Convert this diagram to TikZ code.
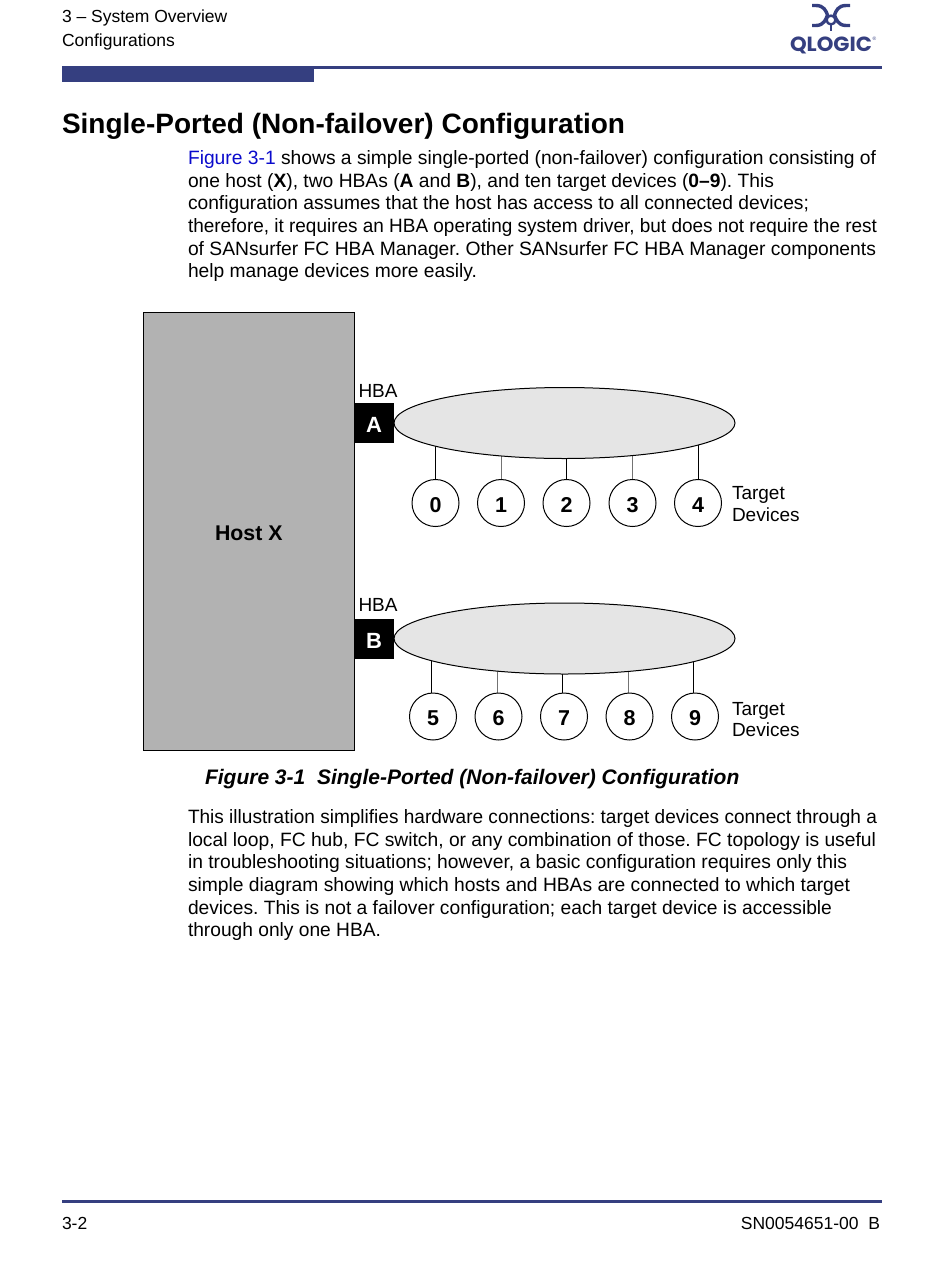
\documentclass[tikz,border=0pt]{standalone}
\usepackage{fontspec}
\usepackage{graphicx}
\setmainfont{Liberation Sans}
\newfontfamily\logofont{Poppins}
\usetikzlibrary{backgrounds,shapes.geometric}
\definecolor{ql}{HTML}{353F80}
\definecolor{lnk}{HTML}{0A0ACC}
\newcommand\fitw[2]{\resizebox{#1pt}{\height}{\frenchspacing #2}}
\newcommand\dn[1]{\raisebox{-2pt}[\height][\depth]{#1}}
\tikzset{
 every node/.style={inner sep=0pt,outer sep=0pt},
 bodyline/.style={anchor=base west,font=\fontsize{19.3}{22}\selectfont},
 hdr/.style={anchor=base west,font=\fontsize{17.5}{20}\selectfont},
 lbl/.style={anchor=base west,font=\fontsize{19}{22}\selectfont},
 hba/.style={fill=black,minimum width=40,minimum height=40,text=white,font=\fontsize{22}{24}\selectfont\bfseries},
 loopell/.style={draw=black,line width=1,fill=black!10,ellipse,minimum width=341,minimum height=71},
 dev/.style={circle,draw=black,line width=1,fill=white,minimum size=47,font=\fontsize{21.5}{24}\selectfont\bfseries},
 darkwire/.style={draw=black,line width=1},
 greywire/.style={draw=black!55,line width=1},
 logostroke/.style={draw=ql,line width=3.4,line cap=butt},
}
\begin{document}
\begin{tikzpicture}[x=1pt,y=-1pt]
\useasboundingbox (0,0) rectangle (950,1267);
% header
\node[hdr] (h1) at (62,22) {3 – System Overview};
\node[hdr] (h2) at (62,46) {Configurations};
\fill[ql] (62,65.5) rectangle (882,68.5);
\fill[ql] (62,67) rectangle (314,82);
% logo
\draw[logostroke] (812,5.5) -- (816,5.5) .. controls (824,5.5) and (826,11) .. (827.5,15) .. controls (826,19) and (824,25.5) .. (816,25.5) -- (812,25.5);
\draw[logostroke] (850,5.5) -- (846,5.5) .. controls (838,5.5) and (836,11) .. (834.5,15) .. controls (836,19) and (838,25.5) .. (846,25.5) -- (850,25.5);
\draw[logostroke,line width=2.4] (831,20) circle (4.4);
\draw[logostroke,line width=2.6] (831,23) -- (831,30.5);
\node[anchor=base west,text=ql,font=\logofont\bfseries\fontsize{20.5}{21}\selectfont] (logo) at (790,51) {\resizebox{82pt}{\height}{QLOGIC}};
\node[anchor=base west,text=ql,font=\fontsize{5}{5}\selectfont] (reg) at (872.5,40.5) {®};
% title
\node[anchor=base west,font=\fontsize{28}{32}\selectfont\bfseries] (title) at (62,133) {Single-Ported (Non-failover) Configuration};
% top paragraph
\node[bodyline] (p1) at (188,164) {\fitw{688}{\textcolor{lnk}{Figure 3-1} shows a simple single-ported (non-failover) configuration consisting of}};
\node[bodyline] (p2) at (188,187) {\fitw{586}{one host (\textbf{X}), two HBAs (\textbf{A} and \textbf{B}), and ten target devices (\textbf{0–9}). This}};
\node[bodyline] (p3) at (188,209.5) {\fitw{621}{configuration assumes that the host has access to all connected devices;}};
\node[bodyline] (p4) at (188,232) {\fitw{689}{therefore, it requires an HBA operating system driver, but does not require the rest}};
\node[bodyline] (p5) at (188,255) {\fitw{688}{of SANsurfer FC HBA Manager. Other SANsurfer FC HBA Manager components}};
\node[bodyline] (p6) at (188,277.5) {\fitw{289}{help manage devices more easily.}};
% diagram
\node[draw=black,line width=0.8,fill=black!30,minimum width=210.5,minimum height=438,font=\fontsize{21.3}{24}\selectfont\bfseries] (host) at (248.75,531) {\dn{Host X}};
\node[hba] (A) at (374,423) {\dn{A}};
\node[hba] (B) at (374,639) {\dn{B}};
\node[loopell] (eA) at (564.5,423) {};
\node[loopell] (eB) at (564.5,638.5) {};
\node[lbl] (hA) at (358.5,397) {HBA};
\node[lbl] (hB) at (358.5,611) {HBA};
\foreach \n/\x in {0/435.5,1/501,2/566.5,3/632.5,4/698}
  \node[dev] (c\n) at (\x,503) {\dn{\n}};
\foreach \n/\x in {5/433,6/498.5,7/564,8/629.5,9/695}
  \node[dev] (c\n) at (\x,716.5) {\dn{\n}};
\begin{scope}[on background layer]
 \foreach \n in {0,2,4} \draw[darkwire] (c\n.north) -- (c\n.north |- eA.center);
 \foreach \n in {1,3} \draw[greywire] (c\n.north) -- (c\n.north |- eA.center);
 \foreach \n in {5,7,9} \draw[darkwire] ([xshift=-1.5pt]c\n.north) -- ([xshift=-1.5pt]c\n.north |- eB.center);
 \foreach \n in {6,8} \draw[greywire] ([xshift=-1.5pt]c\n.north) -- ([xshift=-1.5pt]c\n.north |- eB.center);
\end{scope}
\node[lbl] (t1) at (732,499) {Target};
\node[lbl] (t2) at (732,521) {Devices};
\node[lbl] (t3) at (732,715) {Target};
\node[lbl] (t4) at (732,736.5) {Devices};
% caption
\node[anchor=base west,font=\fontsize{21}{24}\selectfont\bfseries\itshape] (cap) at (205,784) {Figure 3-1\ \ Single-Ported (Non-failover) Configuration};
% lower paragraph
\node[bodyline] (q1) at (188,823) {\fitw{689}{This illustration simplifies hardware connections: target devices connect through a}};
\node[bodyline] (q2) at (188,846) {\fitw{688}{local loop, FC hub, FC switch, or any combination of those. FC topology is useful}};
\node[bodyline] (q3) at (188,868.5) {\fitw{659}{in troubleshooting situations; however, a basic configuration requires only this}};
\node[bodyline] (q4) at (188,891) {\fitw{662}{simple diagram showing which hosts and HBAs are connected to which target}};
\node[bodyline] (q5) at (188,914) {\fitw{644}{devices. This is not a failover configuration; each target device is accessible}};
\node[bodyline] (q6) at (188,936.5) {\fitw{193}{through only one HBA.}};
% footer
\fill[ql] (62,1200) rectangle (882,1203);
\node[hdr] (f1) at (62,1229) {3-2};
\node[hdr,anchor=base east] (f2) at (880,1229) {SN0054651-00\ \ B};
\end{tikzpicture}
\end{document}
